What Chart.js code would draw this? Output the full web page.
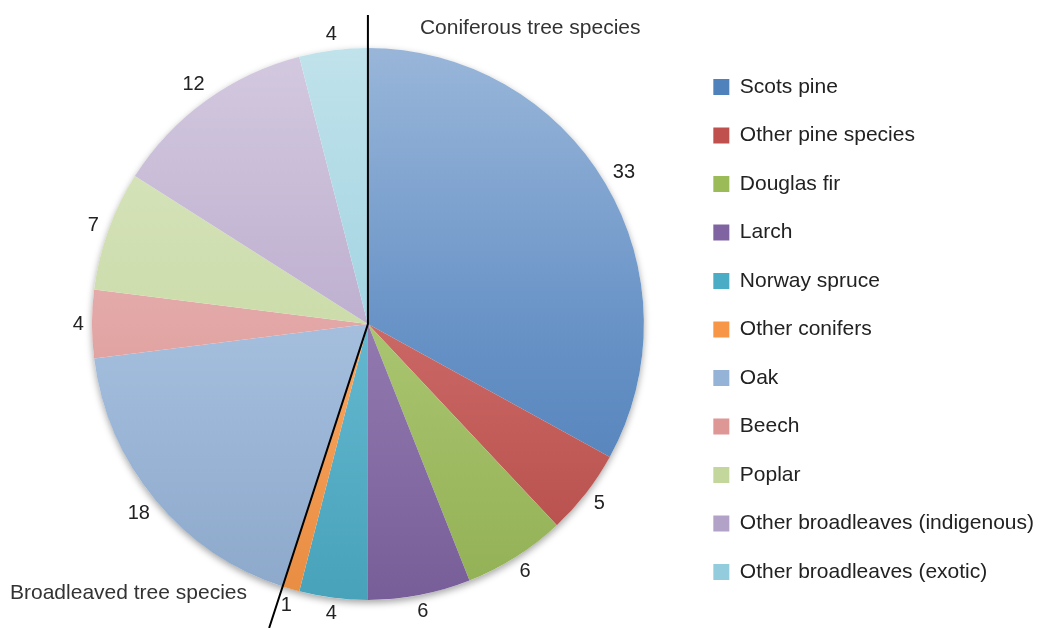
<!DOCTYPE html>
<html>
<head>
<meta charset="utf-8">
<script src="https://cdn.jsdelivr.net/npm/chart.js@4/dist/chart.umd.min.js"></script>
<style>
  html, body { margin: 0; padding: 0; background: #fff; }
  canvas { display: block; }
</style>
</head>
<body>
<canvas id="speciesChart" width="1047" height="628"></canvas>
<script>
// Share of planted area by species (%)
const species = [
  'Scots pine', 'Other pine species', 'Douglas fir', 'Larch', 'Norway spruce', 'Other conifers',
  'Oak', 'Beech', 'Poplar', 'Other broadleaves (indigenous)', 'Other broadleaves (exotic)'
];
const shares = [33, 5, 6, 6, 4, 1, 18, 4, 7, 12, 4];
const coniferCount = 6; // first six entries are conifers
const groupLabels = ['Coniferous tree species', 'Broadleaved tree species'];
const sliceColors = [
  '#4f81bd', '#c0504d', '#9bbb59', '#8064a2', '#4bacc6', '#f79646',
  '#95b3d7', '#dd9896', '#c3d69b', '#b3a2c7', '#93cddd'
];

const pieRadius = 276;
const fontFamily = '"Liberation Sans", Arial, Helvetica, sans-serif';
const textColor = '#222';

function hexToRgb(hex) {
  const n = parseInt(hex.slice(1), 16);
  return [(n >> 16) & 255, (n >> 8) & 255, n & 255];
}

function mix(rgb, target, t) {
  return 'rgb(' + rgb.map((c, i) => Math.round(c + (target[i] - c) * t)).join(',') + ')';
}

// lighter at the top of the pie, base colour towards the bottom
function sliceFill(ctx) {
  const chart = ctx.chart;
  const area = chart.chartArea;
  const base = sliceColors[ctx.dataIndex];
  if (!area) return base;
  const cy = (area.top + area.bottom) / 2;
  const rgb = hexToRgb(base);
  const g = chart.ctx.createLinearGradient(0, cy - pieRadius, 0, cy + pieRadius);
  g.addColorStop(0, mix(rgb, [255, 255, 255], 0.42));
  g.addColorStop(0.55, mix(rgb, [255, 255, 255], 0.12));
  g.addColorStop(1, mix(rgb, [0, 0, 0], 0.06));
  return g;
}

// soft shadow under the whole pie
const pieShadow = {
  id: 'pieShadow',
  beforeDatasetsDraw(chart) {
    const arc = chart.getDatasetMeta(0).data[0];
    if (!arc) return;
    const { x, y, outerRadius } = arc.getProps(['x', 'y', 'outerRadius'], true);
    const c = chart.ctx;
    c.save();
    c.shadowColor = 'rgba(0,0,0,0.35)';
    c.shadowBlur = 7;
    c.shadowOffsetY = 3;
    c.fillStyle = '#fff';
    c.beginPath();
    c.arc(x, y, outerRadius, 0, Math.PI * 2);
    c.fill();
    c.restore();
  }
};

// value labels outside the slices, group divider and group captions
const pieAnnotations = {
  id: 'pieAnnotations',
  afterDatasetsDraw(chart) {
    const c = chart.ctx;
    const arcs = chart.getDatasetMeta(0).data;
    const first = arcs[0].getProps(['x', 'y', 'startAngle', 'outerRadius'], true);
    const cx = first.x, cy = first.y, r = first.outerRadius;

    c.save();
    c.font = '20px ' + fontFamily;
    c.fillStyle = textColor;
    c.textAlign = 'center';
    c.textBaseline = 'middle';
    arcs.forEach((arc, i) => {
      const p = arc.getProps(['startAngle', 'endAngle'], true);
      const mid = (p.startAngle + p.endAngle) / 2;
      const dx = Math.cos(mid), dy = Math.sin(mid);
      const text = String(shares[i]);
      const hw = c.measureText(text).width / 2, hh = 7.5;
      const d = r + 8 + hw * Math.abs(dx) + hh * Math.abs(dy);
      c.fillText(text, cx + dx * d, cy + dy * d);
    });

    // divider between conifers and broadleaves
    const split = arcs[coniferCount - 1].getProps(['endAngle'], true).endAngle;
    const topA = first.startAngle;
    const topLen = (cy - 15) / Math.abs(Math.sin(topA));
    const botLen = (chart.height - cy) / Math.abs(Math.sin(split));
    c.strokeStyle = '#000';
    c.lineWidth = 2;
    c.beginPath();
    c.moveTo(cx + Math.cos(topA) * topLen, cy + Math.sin(topA) * topLen);
    c.lineTo(cx, cy);
    c.lineTo(cx + Math.cos(split) * botLen, cy + Math.sin(split) * botLen);
    c.stroke();

    c.font = '21px ' + fontFamily;
    c.fillStyle = '#333';
    c.textAlign = 'left';
    c.fillText(groupLabels[0], cx + 52, 28);
    c.fillText(groupLabels[1], 10, 593);
    c.restore();
  }
};

new Chart(document.getElementById('speciesChart'), {
  type: 'pie',
  data: {
    labels: species,
    datasets: [{
      data: shares,
      backgroundColor: sliceFill,
      borderWidth: 0,
      radius: pieRadius
    }]
  },
  options: {
    responsive: false,
    devicePixelRatio: 1,
    animation: false,
    layout: { padding: { top: 20, bottom: 0, left: 50, right: 3 } },
    plugins: {
      tooltip: { enabled: false },
      legend: {
        position: 'right',
        // blank title only nudges the list down a little
        title: { display: true, text: ' ', padding: 0, font: { size: 9 } },
        labels: {
          boxWidth: 16,
          boxHeight: 16,
          padding: 27.5,
          color: textColor,
          font: { size: 21, family: fontFamily },
          generateLabels: () => species.map((text, i) => ({
            text,
            fillStyle: sliceColors[i],
            strokeStyle: sliceColors[i],
            lineWidth: 0,
            hidden: false,
            index: i,
            fontColor: textColor
          }))
        }
      }
    }
  },
  plugins: [pieShadow, pieAnnotations]
});
</script>
</body>
</html>
